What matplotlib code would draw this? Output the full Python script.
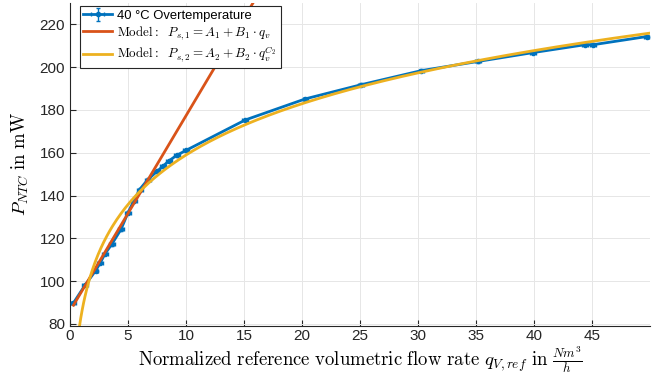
import matplotlib
matplotlib.use("Agg")
import matplotlib.pyplot as plt
import numpy as np

# measured data, 40 °C overtemperature
flow = [0.3, 1.3, 2.2, 2.6, 3.0, 3.6, 4.4, 5.0, 5.5, 6.0, 6.7, 7.5, 8.0, 8.5, 9.2, 10.0,
        15.1, 20.3, 25.1, 30.3, 35.2, 39.9, 44.4, 45.1, 49.7]
power = [89.8, 98.1, 104.8, 108.4, 112.6, 117.2, 124.2, 132.0, 137.5, 142.8, 147.4, 151.3,
         153.6, 156.1, 158.8, 161.1, 175.3, 185.2, 191.8, 198.4, 202.7, 206.8, 210.5, 210.5, 214.3]
flow_err = 0.25
power_err = 0.6

# model parameters
A1, B1 = 86.0, 9.13
A2, B2, C2 = -521.0, 606.0, 0.05

blue = '#0072BD'
red = '#D95319'
yellow = '#EDB120'

plt.rcParams['mathtext.fontset'] = 'cm'
plt.rcParams['font.family'] = ['Liberation Sans', 'DejaVu Sans']

fig = plt.figure(figsize=(6.56, 3.76), dpi=100, facecolor='white')
ax = fig.add_axes([70 / 656, 50 / 376, 580 / 656, 323 / 376])

q = np.linspace(flow[0], 50, 400)
h_meas = ax.errorbar(flow, power, xerr=flow_err, yerr=power_err, color=blue, lw=2,
                     marker='.', ms=6, capsize=1.5, elinewidth=1.0, zorder=3,
                     label='40 °C Overtemperature')
h_lin, = ax.plot(q, A1 + B1 * q, color=red, lw=2, zorder=4,
                 label=r'$\mathrm{Model:}\ \ P_{s,1} = A_1 + B_1 \cdot q_v$')
h_pow, = ax.plot(q, A2 + B2 * q ** C2, color=yellow, lw=2, zorder=4,
                 label=r'$\mathrm{Model:}\ \ P_{s,2} = A_2 + B_2 \cdot q_v^{C_2}$')

ax.set_xlim(0, 50)
ax.set_ylim(79, 230)
ax.set_xticks(np.arange(0, 50, 5))
ax.set_yticks(np.arange(80, 221, 20))
ax.grid(True, color='#e6e6e6', lw=0.7)
ax.set_axisbelow(True)
for s in ['top', 'right']:
    ax.spines[s].set_visible(False)
for s in ['left', 'bottom']:
    ax.spines[s].set_color('#262626')
    ax.spines[s].set_linewidth(0.8)
ax.tick_params(direction='in', length=4, width=0.8, colors='#262626', labelsize=11)
ax.tick_params(axis='x', pad=2.5)

ax.set_ylabel(r'$P_{NTC}\ \mathrm{in\ mW}$', fontsize=13.5, labelpad=6)
# x label placed by hand: the tall fraction pushes an automatic label into the ticks
fig.text(360 / 656, (376 - 366) / 376,
         r'$\mathrm{Normalized\ reference\ volumetric\ flow\ rate}\ q_{V,ref}\ \mathrm{in}\ \frac{Nm^3}{h}$',
         fontsize=13.5, ha='center', va='baseline')

leg = ax.legend(handles=[h_meas, h_lin, h_pow], loc='upper left',
                bbox_to_anchor=(0.012, 1.0), fontsize=9.4, fancybox=False,
                framealpha=1, edgecolor='#262626', borderpad=0.3, handlelength=2.2,
                labelspacing=0.2, handletextpad=0.4, borderaxespad=0.2)
leg.get_frame().set_linewidth(0.8)

fig.savefig('out.png', dpi=100)
